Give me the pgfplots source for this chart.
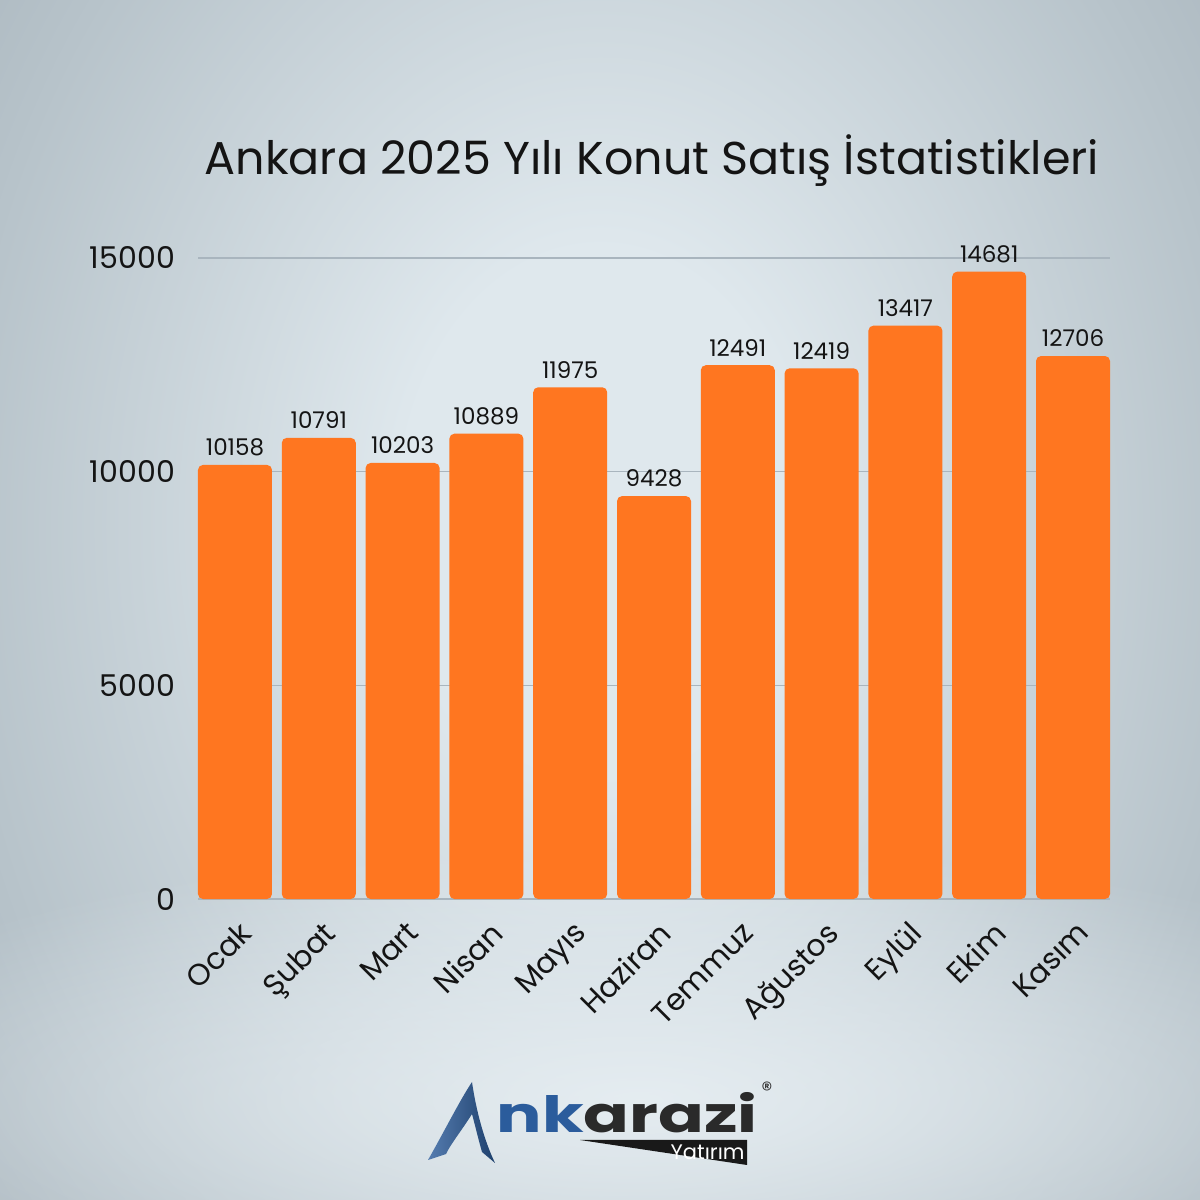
\documentclass[border=0pt]{standalone}
\usepackage{pgfplots}
\usepackage{pgfplotstable}
\pgfplotsset{compat=1.18}
\usetikzlibrary{fadings}
\usepackage{fontspec}
\setmainfont{Poppins}
\definecolor{barc}{HTML}{FF7620}
\definecolor{bgin}{HTML}{DFE8ED}
\definecolor{bgmid}{HTML}{B7C3CA}
\definecolor{bgout}{HTML}{95A1AA}
\definecolor{glow}{HTML}{EAF1F5}
\definecolor{gridc}{HTML}{A9B5BE}
\definecolor{logoblue}{HTML}{2B5C9C}
\definecolor{logodark}{HTML}{2A2A2A}
\definecolor{txt}{HTML}{141414}
\pgfdeclareradialshading{bgshade}{\pgfpoint{0bp}{3bp}}{color(0bp)=(bgin); color(8bp)=(bgin); color(26bp)=(bgmid); color(44bp)=(bgout); color(80bp)=(bgout)}
\tikzfading[name=softglow, inner color=transparent!0, outer color=transparent!100]
\pgfplotstableread{
x y lab
0 10158 10158
1 10791 10791
2 10203 10203
3 10889 10889
4 11975 11975
5 9428 9428
6 12491 12491
7 12419 12419
8 13417 13417
9 14681 14681
10 12706 12706
}\data
\begin{document}
\begin{tikzpicture}[x=0.5pt,y=0.5pt]
\begin{scope}
\clip (0,0) rectangle (1200,1200);
\shade[shading=bgshade] (-20,-220) rectangle (1220,1420);
\fill[glow, opacity=0.85, path fading=softglow] (640,100) ellipse (900 and 260);
\end{scope}
\node[anchor=base, inner sep=0, text=txt, font=\fontsize{23}{27}\selectfont] at (652,1025) {Ankara 2025 Yılı Konut Satış İstatistikleri};
\begin{axis}[
  at={(99pt,150.5pt)}, anchor=south west,
  scale only axis, width=456pt, height=320.5pt,
  xmin=-0.4415, xmax=10.4415, ymin=0, ymax=15000,
  ybar, bar width=37pt,
  axis line style={draw=none}, major tick length=0pt,
  ymajorgrids, major grid style={gridc, line width=0.6pt},
  scaled y ticks=false,
  ytick={0,5000,10000,15000}, yticklabels={0,5000,10000,15000},
  yticklabel style={font=\fontsize{15}{18}\selectfont, text=txt, xshift=-8pt},
  xtick={0,...,10},
  xticklabels={Ocak,Şubat,Mart,Nisan,Mayıs,Haziran,Temmuz,Ağustos,Eylül,Ekim,Kasım},
  xticklabel style={font=\fontsize{15}{18}\selectfont, text=txt, xshift=1.5pt, yshift=-5.5pt, rotate=45, anchor=north east},
  clip=false,
]
\addplot[fill=barc, draw=none, rounded corners=2.5pt,
  nodes near coords, point meta=explicit symbolic,
  every node near coord/.append style={font=\fontsize{11.5}{13}\selectfont, text=txt, anchor=south, yshift=1pt}]
  table[x=x,y=y,meta=lab]{\data};
\end{axis}
% logo
\shade[left color=logoblue!80!white, right color=logoblue!70!black]
  (428,40) .. controls (445,70) and (460,100) .. (472,118)
  .. controls (476,90) and (484,60) .. (495,37)
  -- (482,48) .. controls (478,62) and (475,75) .. (472,86)
  .. controls (462,70) and (450,55) .. (446,46) -- cycle;
\node[anchor=base west, inner sep=0, font=\bfseries\fontsize{25}{25}\selectfont, xscale=1.35] at (496,67) {\textcolor{logoblue}{nk}\textcolor{logodark}{arazi}};
\fill[black!90] (580,60) -- (747,60) -- (747,35) -- cycle;
\node[anchor=base east, inner sep=0, text=white, font=\fontsize{10.5}{10.5}\selectfont] at (745,40) {Yatırım};
\node[font=\fontsize{11}{11}\selectfont, text=logodark] at (767,110) {®};
\end{tikzpicture}
\end{document}
